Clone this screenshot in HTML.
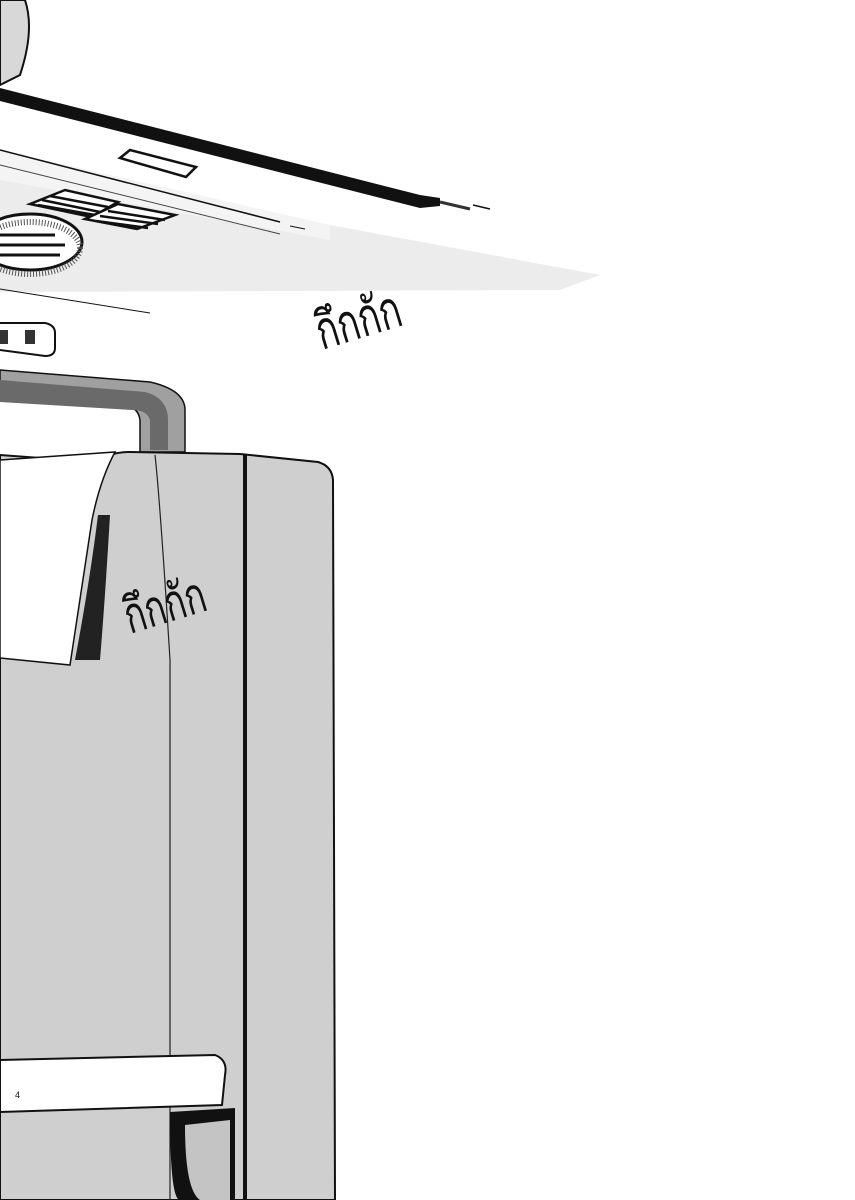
<!DOCTYPE html>
<html><head><meta charset="utf-8"><style>
html,body{margin:0;padding:0;background:#fff;width:855px;height:1200px;overflow:hidden}
svg{display:block}
</style></head><body>
<svg width="855" height="1200" viewBox="0 0 855 1200" xmlns="http://www.w3.org/2000/svg">
<!-- ceiling gray -->
<polygon points="0,150 330,225 600,275 560,290 0,292" fill="#ececec"/>
<polygon points="0,150 330,225 330,240 0,180" fill="#f4f4f4"/>
<!-- head at top-left -->
<path d="M0,0 L25,0 Q35,30 20,75 L0,85 Z" fill="#d8d8d8" stroke="#111" stroke-width="2"/>
<!-- thick black line -->
<polygon points="0,88 0,101 420,208 440,206 440,198 420,195" fill="#111"/>
<line x1="440" y1="202" x2="470" y2="209" stroke="#333" stroke-width="3"/>
<line x1="473" y1="205" x2="490" y2="209" stroke="#111" stroke-width="1.5"/>
<!-- slot -->
<polygon points="120,158 130,150 196,167 186,177" fill="#fff" stroke="#111" stroke-width="2.5"/>
<!-- lines -->
<line x1="0" y1="150" x2="280" y2="222" stroke="#111" stroke-width="1.5"/>
<line x1="0" y1="165" x2="280" y2="234" stroke="#444" stroke-width="1"/>
<line x1="290" y1="226" x2="305" y2="229" stroke="#111" stroke-width="1"/>
<!-- grilles -->
<g stroke="#111" stroke-width="2.5">
<polygon points="30,204 65,190 118,202 92,217" fill="#fff"/>
<line x1="42" y1="200" x2="100" y2="212"/><line x1="50" y1="196" x2="108" y2="207"/><line x1="38" y1="205" x2="95" y2="215"/>
<polygon points="85,219 118,204 175,215 137,229" fill="#fff"/>
<line x1="100" y1="216" x2="158" y2="224"/><line x1="108" y1="211" x2="165" y2="220"/><line x1="96" y1="221" x2="148" y2="228"/>
</g>
<ellipse cx="30" cy="242" rx="52" ry="28" fill="#fff" stroke="#111" stroke-width="3"/>
<ellipse cx="30" cy="248" rx="50" ry="26" fill="none" stroke="#555" stroke-width="6" stroke-dasharray="1 2"/>
<g stroke="#111" stroke-width="3"><line x1="0" y1="235" x2="55" y2="235"/><line x1="0" y1="245" x2="65" y2="245"/><line x1="0" y1="255" x2="60" y2="255"/></g>
<line x1="0" y1="289" x2="150" y2="313" stroke="#111" stroke-width="1"/>
<!-- outlet -->
<path d="M0,323 L45,323 Q55,325 55,333 L55,348 Q55,356 45,356 L0,350" fill="#fff" stroke="#111" stroke-width="2"/>
<rect x="0" y="330" width="8" height="14" fill="#333"/><rect x="25" y="330" width="10" height="14" fill="#333"/>
<!-- handle -->
<path d="M0,370 L150,382 Q185,390 185,410 L185,452 L140,452 L140,420 Q138,405 120,405 L0,398 Z" fill="#a0a0a0" stroke="#111" stroke-width="1.5"/>
<path d="M0,380 L145,392 Q168,398 168,420 L168,450 L150,450 L150,420 Q147,410 132,410 L0,402 Z" fill="#6a6a6a"/>
<!-- fridge body -->
<path d="M95,462 Q110,452 130,452 L240,454 L318,462 Q332,466 333,480 L335,1200 L0,1200 L0,455 Z" fill="#cfcfcf" stroke="#111" stroke-width="2"/>
<!-- paper -->
<path d="M0,460 L115,452 Q100,480 92,520 L70,665 L0,658 Z" fill="#fff" stroke="#111" stroke-width="1.5"/>
<path d="M98,515 Q90,580 75,660 L100,660 Q105,600 110,515 Z" fill="#222"/>
<!-- vertical lines -->
<line x1="245" y1="454" x2="245" y2="1200" stroke="#111" stroke-width="4"/>
<path d="M155,455 Q160,500 170,660 L170,1200" stroke="#222" stroke-width="1.2" fill="none"/>
<!-- shelf -->
<path d="M0,1060 L215,1055 Q228,1060 225,1075 L222,1105 L0,1112 Z" fill="#fff" stroke="#111" stroke-width="2"/>
<path d="M170,1112 Q170,1200 180,1200 L235,1200 L235,1108 Z" fill="#111"/>
<path d="M185,1125 Q185,1190 200,1200 L230,1200 L230,1120 Z" fill="#c4c4c4"/>
<text x="15" y="1098" font-family="Liberation Sans, sans-serif" font-size="9" fill="#111">4</text>
<!-- sfx -->
<text x="0" y="0" transform="translate(322,350) rotate(-17) scale(0.78,1.15)" font-family="'Liberation Sans','DejaVu Sans',sans-serif" font-size="46" fill="#111">กึกกัก</text>
<text x="0" y="0" transform="translate(130,634) rotate(-17) scale(0.78,1.15)" font-family="'Liberation Sans','DejaVu Sans',sans-serif" font-size="44" fill="#111">กึกกัก</text>
</svg>
</body></html>
